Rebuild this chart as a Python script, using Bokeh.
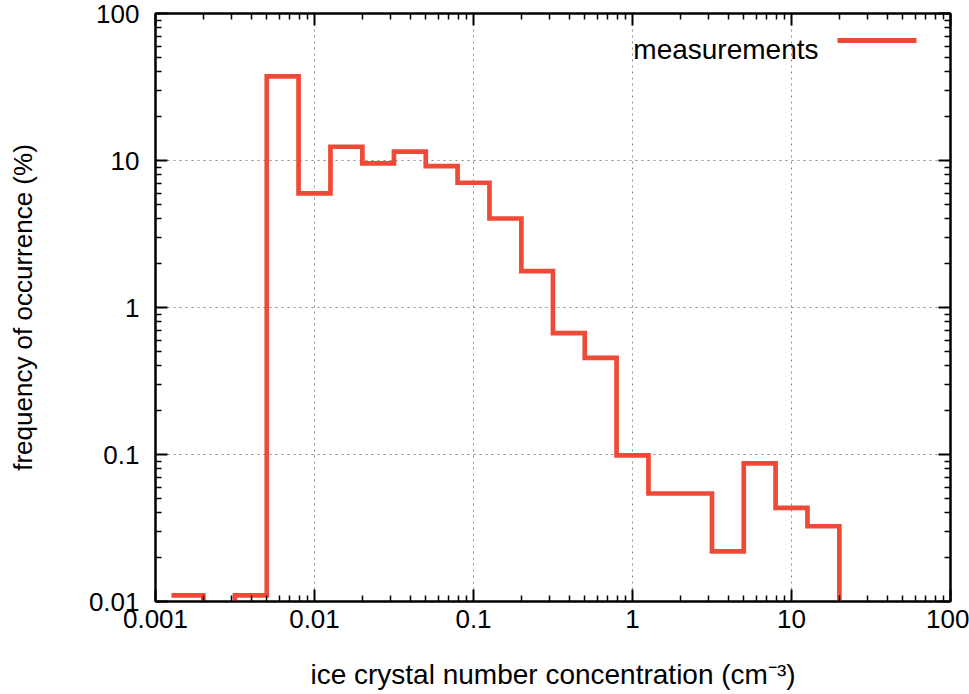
from bokeh.plotting import figure
from bokeh.models import (FixedTicker, LogAxis, CustomJSTickFormatter, Label, Arrow)
from bokeh.embed import file_html
from bokeh.resources import INLINE

# ---- data ----
bin_edges = [0.00126, 0.002, 0.00316, 0.00501, 0.00794, 0.0126, 0.02, 0.0316,
             0.0501, 0.0794, 0.126, 0.2, 0.316, 0.501, 0.794, 1.26, 2.0, 3.16,
             5.01, 7.94, 12.6, 20.0]
frequency = [0.011, 0.0, 0.011, 37.3, 5.97, 12.4, 9.57, 11.5, 9.17, 7.06, 4.03,
             1.77, 0.67, 0.454, 0.0986, 0.0543, 0.0543, 0.0219, 0.087, 0.0433,
             0.0325]
x_major = [0.001, 0.01, 0.1, 1, 10, 100]
y_major = [0.01, 0.1, 1, 10, 100]
series_name = "measurements"
x_title = "ice crystal number concentration (cm\u207b\u00b3)"
y_title = "frequency of occurrence (%)"

RED = "#ef4a37"
FONT = "Liberation Sans"

# frame placement in canvas pixels
W, H = 969, 694
FL, FR, FT, FB = 155, 950, 13, 601

p = figure(width=W, height=H, x_axis_type="log", y_axis_type="log",
           x_range=(0.001, 100), y_range=(0.01, 100),
           output_backend="svg", toolbar_location=None,
           min_border_left=FL, min_border_right=W - FR,
           min_border_top=FT, min_border_bottom=H - FB)
p.background_fill_color = "white"
p.border_fill_color = "white"
p.outline_line_color = "black"
p.outline_line_width = 2

x_minor = [m * 10.0 ** e for e in range(-3, 2) for m in range(2, 10)]
y_minor = [m * 10.0 ** e for e in range(-2, 2) for m in range(2, 10)]
xt = FixedTicker(ticks=x_major, minor_ticks=x_minor)
yt = FixedTicker(ticks=y_major, minor_ticks=y_minor)
fmt = CustomJSTickFormatter(code="return tick.toString()")
blank = CustomJSTickFormatter(code="return ''")


def style(ax, show):
    ax.axis_line_color = "black"
    ax.axis_line_width = 2
    ax.major_tick_line_color = "black"
    ax.major_tick_line_width = 2
    ax.minor_tick_line_color = "black"
    ax.minor_tick_line_width = 1.5
    ax.major_tick_in = 12
    ax.major_tick_out = 0
    ax.minor_tick_in = 6
    ax.minor_tick_out = 0
    if show:
        ax.major_label_text_font = FONT
        ax.major_label_text_font_size = "26px"
        ax.major_label_text_color = "black"
        ax.axis_label_text_font = FONT
        ax.axis_label_text_font_style = "normal"
        ax.axis_label_text_color = "black"
    else:
        ax.major_label_text_font_size = "0px"
        ax.major_label_standoff = 0


xa = p.xaxis[0]
xa.ticker = xt
xa.formatter = fmt
xa.major_label_standoff = 8
style(xa, True)
xa.axis_label = x_title
xa.axis_label_text_font_size = "28px"
xa.axis_label_standoff = 28

ya = p.yaxis[0]
ya.ticker = yt
ya.formatter = fmt
ya.major_label_standoff = 16
style(ya, True)
ya.axis_label = y_title
ya.axis_label_text_font_size = "26px"
ya.axis_label_standoff = 48

top = LogAxis(ticker=xt, formatter=blank)
style(top, False)
p.add_layout(top, "above")
right = LogAxis(ticker=yt, formatter=blank)
style(right, False)
p.add_layout(right, "right")

for g in (p.xgrid[0], p.ygrid[0]):
    g.grid_line_color = "#8a8a8a"
    g.grid_line_width = 1
    g.grid_line_dash = "2 4"
p.xgrid[0].ticker = xt
p.ygrid[0].ticker = yt

# ---- step (histeps-like) line ----
FLOOR = 1e-4  # empty bins fall below the axis
xs, ys = [], []
for i, v in enumerate(frequency):
    val = v if v > 0 else FLOOR
    xs += [bin_edges[i], bin_edges[i + 1]]
    ys += [val, val]
xs.append(bin_edges[-1])
ys.append(FLOOR)
p.line(xs, ys, line_color=RED, line_width=4.7, line_join="miter")


def sx(cx):
    return cx - FL


def sy(cy):
    return FB - cy


# ---- legend (text left of sample line) ----
p.add_layout(Label(x=sx(818), y=sy(49), x_units="screen", y_units="screen",
                   text=series_name, text_align="right", text_baseline="alphabetic",
                   text_font=FONT, text_font_size="28px", text_color="black"))
p.add_layout(Arrow(end=None, x_start=sx(837), y_start=sy(40), x_end=sx(916),
                   y_end=sy(40), start_units="screen", end_units="screen",
                   line_color=RED, line_width=5))

open("out.html", "w").write(file_html(p, INLINE))
